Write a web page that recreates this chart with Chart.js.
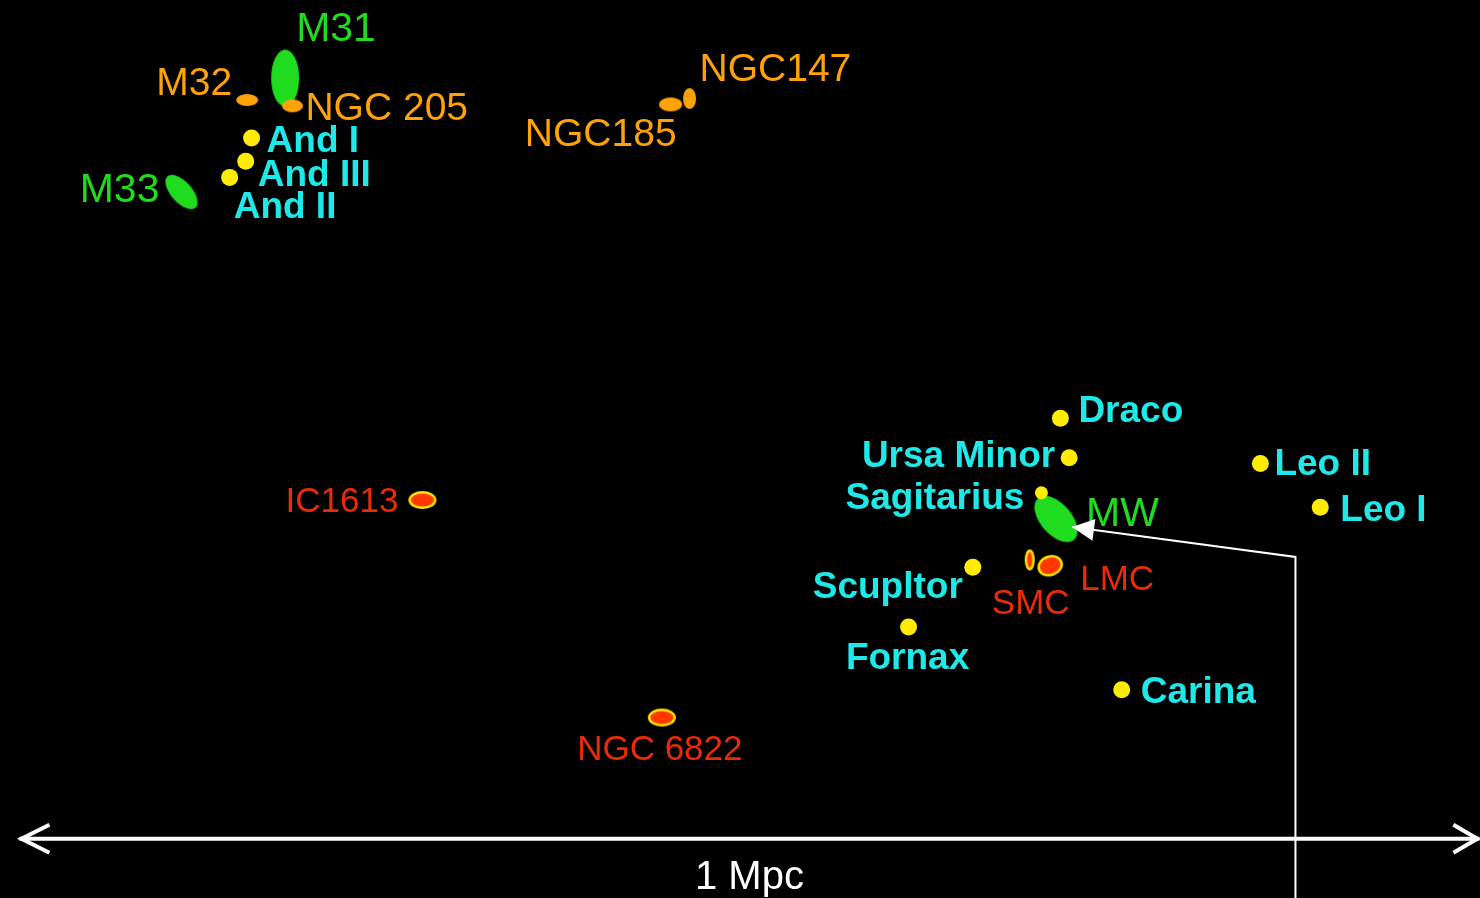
<!DOCTYPE html>
<html>
<head>
<meta charset="utf-8">
<script src="https://cdn.jsdelivr.net/npm/chart.js@4.4.0/dist/chart.umd.min.js"></script>
<style>
  html, body { margin: 0; padding: 0; background: #000; overflow: hidden; }
  canvas { display: block; }
</style>
</head>
<body>
<canvas id="localGroup" width="1480" height="898"></canvas>
<script>
// Local Group members, positions in kpc relative to the Milky Way (x right, y up)
const spiralNames = ['M31', 'M33', 'MW'];
const spiralX = [-528, -599, 0];
const spiralY = [302, 224, 0];

const ellipticalNames = ['M32', 'NGC 205', 'NGC147', 'NGC185'];
const ellipticalX = [-554, -523, -251, -264];
const ellipticalY = [287, 283, 288, 284];

const irregularNames = ['IC1613', 'NGC 6822', 'SMC', 'LMC'];
const irregularX = [-434, -270, -18, -4];
const irregularY = [13, -136, -28, -32];

const dwarfNames = ['And I', 'And III', 'And II', 'Draco', 'Ursa Minor', 'Sagitarius',
                    'Scupltor', 'Fornax', 'Carina', 'Leo II', 'Leo I'];
const dwarfX = [-551, -555, -566, 3, 9, -10, -57, -101, 45, 140, 181];
const dwarfY = [261, 245, 234, 69, 42, 18, -33, -74, -117, 38, 8];

// scale bar (kpc) and the pointer to the Milky Way
const scaleBarX = [-710, 290];
const scaleBarY = -219;
const scaleBarLabel = '1 Mpc';
const pointerX = [164, 164, 11];
const pointerY = [-270, -26, -5.5];

// ---- styles ----
const FONT = '"Liberation Sans", Arial, sans-serif';
const typeStyle = {
  spiral:     { fill: '#1fdc1f', text: '#1fdc1f', font: 'normal 41px ' + FONT },
  elliptical: { fill: '#ffa20a', text: '#ffa20a', font: 'normal 39px ' + FONT },
  irregular:  { fill: '#ff3800', edge: '#ffe800', text: '#e82c08', font: 'normal 35px ' + FONT },
  dwarf:      { fill: '#ffec00', text: '#1ee8e8', font: 'bold 37px ' + FONT }
};
const TEXT_SHIFT = 3;   // canvas 'middle' sits a little high for caps

// ellipse size (px) and rotation (deg) for the extended objects
const shapes = {
  'M31': [28, 57, 0], 'M33': [21, 42, -42], 'MW': [31, 55, -41],
  'M32': [22, 12, 0], 'NGC 205': [21, 13, 0], 'NGC147': [13, 21, 0], 'NGC185': [23, 14, 0],
  'IC1613': [28, 18, 0], 'NGC 6822': [28, 18, 0], 'SMC': [10, 21, 0], 'LMC': [26, 21, -20]
};

// label offset from the point (px) and alignment
const labelPos = {
  'M31': [11, -51, 'left'], 'M33': [-22, -4, 'right'], 'MW': [30, -7, 'left'],
  'M32': [-15, -19, 'right'], 'NGC 205': [13, 0, 'left'], 'NGC147': [10, -31, 'left'],
  'NGC185': [6, 28, 'right'],
  'IC1613': [-24, -1, 'right'], 'NGC 6822': [-2, 30, 'center'], 'SMC': [1, 41, 'center'],
  'LMC': [30, 12, 'left'],
  'And I': [15, 1, 'left'], 'And III': [12, 11, 'left'], 'And II': [4, 27, 'left'],
  'Draco': [18, -9, 'left'], 'Ursa Minor': [-14, -4, 'right'], 'Sagitarius': [-17, 3, 'right'],
  'Scupltor': [-10, 18, 'right'], 'Fornax': [-1, 29, 'center'], 'Carina': [19, 0, 'left'],
  'Leo II': [14, -2, 'left'], 'Leo I': [20, 0, 'left']
};

function blob(name, st) {
  const [w, h] = shapes[name];
  const c = document.createElement('canvas');
  c.width = w + 2; c.height = h + 2;
  const g = c.getContext('2d');
  g.beginPath();
  g.ellipse(c.width / 2, c.height / 2, w / 2 - (st.edge ? 1.2 : 0), h / 2 - (st.edge ? 1.2 : 0), 0, 0, Math.PI * 2);
  g.fillStyle = st.fill;
  g.fill();
  if (st.edge) { g.lineWidth = 2.4; g.strokeStyle = st.edge; g.stroke(); }
  return c;
}

function toPoints(xs, ys) { return xs.map((x, i) => ({ x: x, y: ys[i] })); }

function blobSet(kind, names, xs, ys) {
  const st = typeStyle[kind];
  return {
    kind: kind, names: names,
    data: toPoints(xs, ys),
    pointStyle: names.map(n => blob(n, st)),
    rotation: names.map(n => shapes[n][2]),
    clip: false
  };
}

const labelPlugin = {
  id: 'labels',
  afterDatasetsDraw(chart) {
    const ctx = chart.ctx;
    chart.data.datasets.forEach((ds, i) => {
      const st = typeStyle[ds.kind];
      chart.getDatasetMeta(i).data.forEach((el, j) => {
        const p = labelPos[ds.names[j]];
        ctx.save();
        ctx.font = st.font;
        ctx.fillStyle = st.text;
        ctx.textAlign = p[2];
        ctx.textBaseline = 'middle';
        ctx.fillText(ds.names[j], el.x + p[0], el.y + p[1] + TEXT_SHIFT);
        ctx.restore();
      });
    });
  }
};

const overlayPlugin = {
  id: 'overlay',
  afterDraw(chart) {
    const ctx = chart.ctx, sx = chart.scales.x, sy = chart.scales.y;
    ctx.save();
    ctx.strokeStyle = '#fff';
    ctx.fillStyle = '#fff';

    // pointer to the Milky Way
    const px = pointerX.map(v => sx.getPixelForValue(v));
    const py = pointerY.map(v => sy.getPixelForValue(v));
    ctx.lineWidth = 2;
    ctx.beginPath();
    ctx.moveTo(px[0], py[0]);
    for (let k = 1; k < px.length; k++) ctx.lineTo(px[k], py[k]);
    ctx.stroke();
    const n = px.length - 1;
    const ang = Math.atan2(py[n] - py[n - 1], px[n] - px[n - 1]);
    ctx.save();
    ctx.translate(px[n], py[n]);
    ctx.rotate(ang);
    ctx.beginPath();
    ctx.moveTo(0, 0); ctx.lineTo(-22, -11); ctx.lineTo(-22, 11); ctx.closePath();
    ctx.fill();
    ctx.restore();

    // 1 Mpc scale bar
    const x0 = sx.getPixelForValue(scaleBarX[0]), x1 = sx.getPixelForValue(scaleBarX[1]);
    const yb = sy.getPixelForValue(scaleBarY);
    ctx.lineWidth = 4;
    ctx.beginPath(); ctx.moveTo(x0, yb); ctx.lineTo(x1, yb); ctx.stroke();
    ctx.lineJoin = 'miter';
    ctx.beginPath();
    ctx.moveTo(x0 + 30, yb - 14); ctx.lineTo(x0 + 2, yb); ctx.lineTo(x0 + 30, yb + 14);
    ctx.moveTo(x1 - 26, yb - 14); ctx.lineTo(x1 - 2, yb); ctx.lineTo(x1 - 26, yb + 14);
    ctx.stroke();
    ctx.font = 'normal 40px ' + FONT;
    ctx.textAlign = 'center';
    ctx.textBaseline = 'middle';
    ctx.fillText(scaleBarLabel, (x0 + x1) / 2, yb + 36 + TEXT_SHIFT);
    ctx.restore();
  }
};

const dwarfSet = {
  kind: 'dwarf', names: dwarfNames,
  data: toPoints(dwarfX, dwarfY),
  pointStyle: 'circle',
  pointRadius: dwarfNames.map(n => n === 'Sagitarius' ? 6.5 : 8.5),
  backgroundColor: typeStyle.dwarf.fill,
  borderWidth: 0,
  clip: false
};

new Chart(document.getElementById('localGroup'), {
  type: 'scatter',
  data: {
    datasets: [
      dwarfSet,
      blobSet('elliptical', ellipticalNames, ellipticalX, ellipticalY),
      blobSet('irregular', irregularNames, irregularX, irregularY),
      blobSet('spiral', spiralNames, spiralX, spiralY)
    ]
  },
  options: {
    responsive: false,
    animation: false,
    layout: { padding: 0, autoPadding: false },
    plugins: { legend: { display: false }, tooltip: { enabled: false } },
    events: [],
    scales: {
      x: { type: 'linear', min: -723.3, max: 290.4, display: false },
      y: { type: 'linear', min: -259.6, max: 355.5, display: false }
    }
  },
  plugins: [labelPlugin, overlayPlugin]
});
</script>
</body>
</html>
